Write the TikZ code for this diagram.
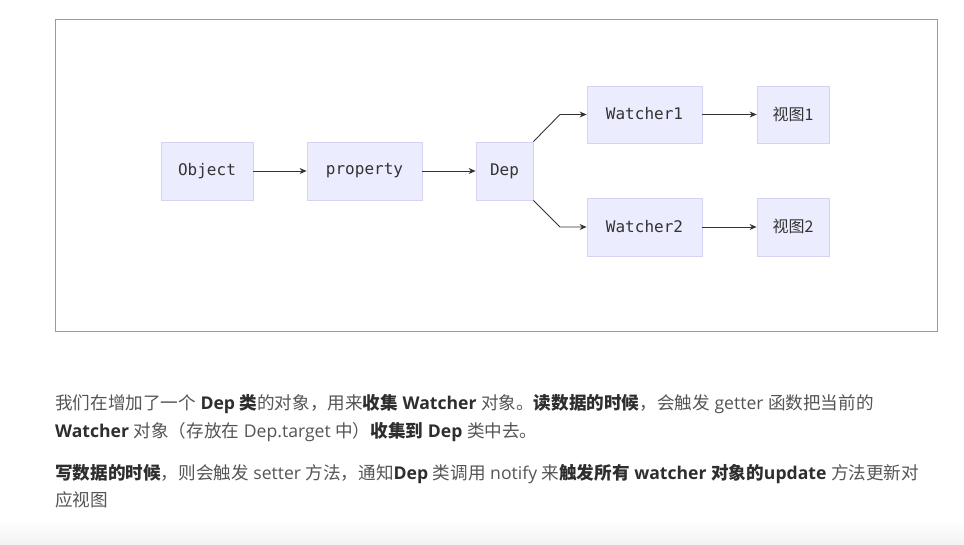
\documentclass[tikz,border=0pt]{standalone}
\usepackage{fontspec}
\setmainfont{Open Sans}
\newfontfamily\cjk{Noto Sans CJK SC}
\newfontfamily\mono{DejaVu Sans Mono}
\usetikzlibrary{arrows.meta}
\definecolor{boxfill}{HTML}{ECECFF}
\definecolor{boxline}{HTML}{D6D2F2}
\definecolor{frameline}{HTML}{9A9A9A}
\definecolor{ink}{HTML}{333333}
\definecolor{txt}{HTML}{555555}
\definecolor{txtb}{HTML}{2E2E2E}
\tikzset{
  box/.style={draw=boxline, fill=boxfill, line width=0.8pt, inner sep=0pt, text=ink, font=\mono\fontsize{16}{18}\selectfont},
  cbox/.style={box, font=\cjk\fontsize{16}{18}\selectfont},
  conn/.style={draw=ink, line width=0.9pt, -{Stealth[length=7pt,width=6pt]}},
  para/.style={anchor=west, inner sep=0pt, text=txt, font=\fontsize{17.6}{20}\selectfont}
}
\newcommand{\zh}[1]{{\cjk #1}}
\newcommand{\bz}[1]{{\color{txtb}\cjk\bfseries #1}}
\newcommand{\bl}[1]{{\color{txtb}\bfseries #1}}
\begin{document}
\begin{tikzpicture}[x=1pt,y=-1pt]
\useasboundingbox (0,0) rectangle (964,545);
\fill[white] (0,0) rectangle (964,545);
\shade[top color=white, bottom color=black!5] (0,520) rectangle (964,545);
\draw[frameline, line width=0.8pt] (55,19) rectangle (937,331);

\node[box, minimum width=92pt, minimum height=58pt] (obj) at (207,171) {\raisebox{2pt}{Object}};
\node[box, minimum width=115pt, minimum height=58pt] (prop) at (364.5,171) {\raisebox{2pt}{property}};
\node[box, minimum width=57pt, minimum height=58pt] (dep) at (504.5,171) {\raisebox{2pt}{Dep}};
\node[box, minimum width=115pt, minimum height=57pt] (w1) at (644.5,114.5) {\raisebox{2pt}{Watcher1}};
\node[box, minimum width=115pt, minimum height=58pt] (w2) at (644.5,227) {\raisebox{2pt}{Watcher2}};
\node[cbox, minimum width=72pt, minimum height=57pt] (v1) at (793,114.5) {\raisebox{2pt}{视图1}};
\node[cbox, minimum width=72pt, minimum height=58pt] (v2) at (793,227) {\raisebox{2pt}{视图2}};

\coordinate (b1) at (560,114.5);
\coordinate (b2) at (560,227);

\draw[conn] (obj) -- (prop);
\draw[conn] (prop) -- (dep);
\draw[conn] (dep.north east) -- (b1) -- (w1);
\draw[conn] (dep.south east) -- (b2) -- (w2);
\draw[conn] (w1) -- (v1);
\draw[conn] (w2) -- (v2);

\node[para] (l1) at (55,404) {\zh{我们在增加了一个} \bl{Dep} \bz{类}\zh{的对象，用来}\bz{收集} \bl{Watcher} \zh{对象。}\bz{读数据的时候}\zh{，会触发} getter \zh{函数把当前的}};
\node[para] (l2) at (55,432) {\bl{Watcher} \zh{对象（存放在} Dep.target \zh{中）}\bz{收集到} \bl{Dep} \zh{类中去。}};
\node[para] (l3) at (55,474) {\bz{写数据的时候}\zh{，则会触发} setter \zh{方法，通知}\bl{Dep} \zh{类调用} notify \zh{来}\bz{触发所有} \bl{watcher} \bz{对象的}\bl{update} \zh{方法更新对}};
\node[para] (l4) at (55,500) {\zh{应视图}};
\end{tikzpicture}
\end{document}
